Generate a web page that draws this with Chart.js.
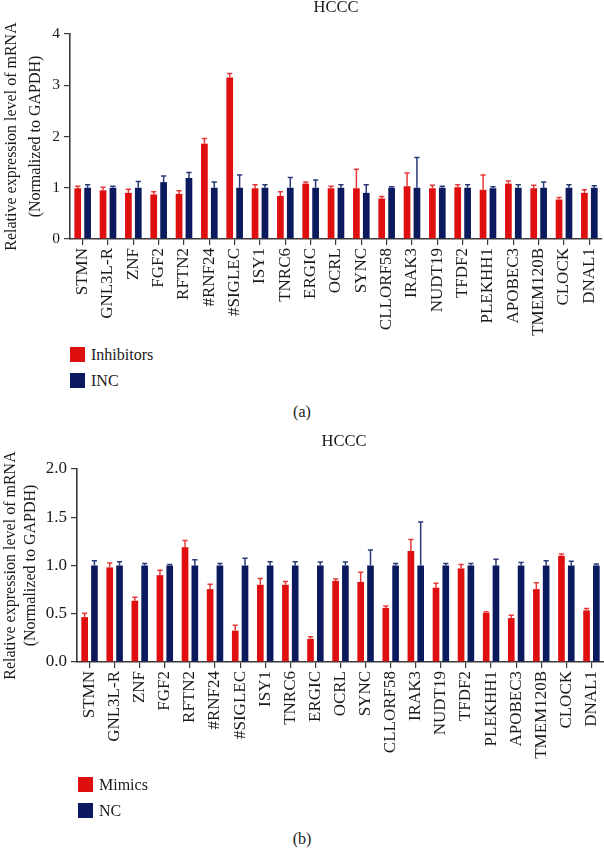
<!DOCTYPE html>
<html>
<head>
<meta charset="utf-8">
<script src="https://cdn.jsdelivr.net/npm/chart.js@4.4.1/dist/chart.umd.min.js"></script>
<style>
  html, body { margin: 0; padding: 0; background: #fff; }
  body { width: 604px; height: 848px; position: relative; overflow: hidden; font-family: "Liberation Serif", "Times New Roman", serif; color: #1a1a1a; }
  .wrap { position: absolute; left: 0; width: 604px; }
  .title { position: absolute; font-size: 16.5px; line-height: 16px; white-space: nowrap; transform: translateX(-50%); }
  .cap { position: absolute; left: 0; width: 604px; text-align: center; font-size: 16px; line-height: 16px; }
  .legend { position: absolute; font-size: 16px; }
  .legend .item { display: flex; align-items: center; height: 15px; }
  .legend .sw { width: 15px; height: 15px; margin-right: 6px; }
</style>
</head>
<body>
<div class="wrap" style="top:0;height:345px"><canvas id="chartA" width="604" height="345"></canvas></div>
<div class="title" style="left:336px;top:-1px">HCCC</div>
<div class="legend" id="legA" style="left:70px;top:347px"></div>
<div class="cap" style="top:404px">(a)</div>

<div class="wrap" style="top:420px;height:370px"><canvas id="chartB" width="604" height="370"></canvas></div>
<div class="title" style="left:344px;top:433px">HCCC</div>
<div class="legend" id="legB" style="left:78px;top:777px"></div>
<div class="cap" style="top:831px">(b)</div>

<script>
// ---------- data ----------
const genes = ["STMN","GNL3L-R","ZNF","FGF2","RFTN2","#RNF24","#SIGLEC","ISY1","TNRC6","ERGIC","OCRL","SYNC","CLLORF58","IRAK3","NUDT19","TFDF2","PLEKHH1","APOBEC3","TMEM120B","CLOCK","DNAL1"];

// panel (a)
const inhibitors    = [0.99,0.95,0.90,0.87,0.88,1.86,3.15,0.99,0.84,1.08,0.99,0.99,0.79,1.03,0.99,1.01,0.96,1.08,0.99,0.77,0.90];
const inhibitorsErr = [0.04,0.06,0.07,0.05,0.06,0.10,0.08,0.07,0.08,0.03,0.04,0.37,0.04,0.26,0.06,0.05,0.29,0.05,0.06,0.04,0.06];
const inc           = [1.00,1.00,1.00,1.11,1.19,1.00,1.00,1.00,1.00,1.00,1.00,0.90,1.00,1.00,1.00,1.00,0.99,1.00,1.00,1.00,1.00];
const incErr        = [0.06,0.03,0.12,0.12,0.11,0.11,0.25,0.06,0.20,0.15,0.06,0.16,0.02,0.59,0.03,0.06,0.03,0.06,0.11,0.06,0.04];
const ticksA = [0,1,2,3,4];

// panel (b)
const mimics    = [0.465,0.98,0.635,0.90,1.19,0.755,0.325,0.80,0.80,0.24,0.84,0.83,0.56,1.15,0.77,0.97,0.51,0.455,0.755,1.10,0.535];
const mimicsErr = [0.04,0.045,0.035,0.05,0.07,0.05,0.055,0.065,0.035,0.022,0.02,0.10,0.02,0.12,0.045,0.04,0.012,0.03,0.065,0.02,0.02];
const nc        = [1,1,1,1,1,1,1,1,1,1,1,1,1,1,1,1,1,1,1,1,1];
const ncErr     = [0.05,0.04,0.02,0.01,0.06,0.02,0.075,0.04,0.04,0.035,0.035,0.16,0.02,0.45,0.02,0.02,0.065,0.03,0.05,0.045,0.015];
const ticksB = [0,0.5,1,1.5,2];

// ---------- style ----------
const RED = "#df0f10", NAVY = "#0b1a5e";
const RED_ERR = "#e63a3a", NAVY_ERR = "#2a3a78";
const AXIS = "#3a3a3a", TXT = "#1a1a1a";
const FONT = "'Liberation Serif', 'Times New Roman', serif";

const errorBars = {
  id: "errorBars",
  afterDatasetsDraw(chart) {
    const ctx = chart.ctx, y = chart.scales.y;
    chart.data.datasets.forEach((ds, di) => {
      const meta = chart.getDatasetMeta(di);
      meta.data.forEach((bar, i) => {
        const top = y.getPixelForValue(ds.data[i] + ds.errors[i]);
        ctx.save();
        ctx.strokeStyle = ds.errorColor;
        ctx.lineWidth = 1.5;
        ctx.beginPath();
        ctx.moveTo(bar.x, bar.y);
        ctx.lineTo(bar.x, top);
        ctx.moveTo(bar.x - 2.6, top);
        ctx.lineTo(bar.x + 2.6, top);
        ctx.stroke();
        ctx.restore();
      });
    });
  }
};

function makeChart(id, cfg) {
  const ds = [
    { label: cfg.names[0], data: cfg.a, errors: cfg.aErr, backgroundColor: RED, errorColor: RED_ERR,
      categoryPercentage: 0.78, barPercentage: 0.68 },
    { label: cfg.names[1], data: cfg.b, errors: cfg.bErr, backgroundColor: NAVY, errorColor: NAVY_ERR,
      categoryPercentage: 0.78, barPercentage: 0.68 }
  ];
  return new Chart(document.getElementById(id), {
    type: "bar",
    data: { labels: genes, datasets: ds },
    plugins: [errorBars],
    options: {
      responsive: false,
      devicePixelRatio: 1,
      animation: false,
      layout: { padding: { top: cfg.padTop, left: 0, right: cfg.padRight, bottom: 0 } },
      plugins: { legend: { display: false }, title: { display: false }, tooltip: { enabled: false } },
      scales: {
        x: {
          offset: true,
          grid: { display: true, offset: false, drawOnChartArea: false, drawTicks: true, tickLength: 6, color: AXIS, lineWidth: 1.2 },
          border: { display: true, color: AXIS, width: 1.6 },
          ticks: { minRotation: 90, maxRotation: 90, autoSkip: false, padding: 3, color: TXT, font: { family: FONT, size: 17 } },
          afterFit(s) { s.height = cfg.xHeight; s.paddingLeft = 0; s.paddingRight = 0; }
        },
        y: {
          min: cfg.ticks[0], max: cfg.ticks[cfg.ticks.length - 1],
          afterBuildTicks(s) { s.ticks = cfg.ticks.map(v => ({ value: v })); },
          grid: { display: true, drawOnChartArea: false, drawTicks: true, tickLength: 6, color: AXIS, lineWidth: 1.2 },
          border: { display: true, color: AXIS, width: 1.6 },
          ticks: { padding: 4, color: TXT, font: { family: FONT, size: cfg.tickSize }, callback: cfg.fmt },
          title: { display: true, text: ["Relative expression level of mRNA", "(Normalized to GAPDH)"],
                   color: TXT, font: { family: FONT, size: 16, lineHeight: cfg.titleLH }, padding: { top: cfg.titlePad, bottom: 0 } },
          afterFit(s) { s.width = cfg.yWidth; s.paddingTop = 0; s.paddingBottom = 0; }
        }
      }
    }
  });
}

makeChart("chartA", {
  names: ["Inhibitors", "INC"], a: inhibitors, aErr: inhibitorsErr, b: inc, bErr: incErr,
  ticks: ticksA, fmt: v => String(v), padTop: 34, padRight: 2, xHeight: 106, yWidth: 70, titleLH: 1.5, titlePad: 0, tickSize: 15.5
});
makeChart("chartB", {
  names: ["Mimics", "NC"], a: mimics, aErr: mimicsErr, b: nc, bErr: ncErr,
  ticks: ticksB, fmt: v => Number(v).toFixed(1), padTop: 49, padRight: 0, xHeight: 128, yWidth: 77, titleLH: 1.3, titlePad: 0, tickSize: 17
});

function legend(id, names) {
  const el = document.getElementById(id);
  [[names[0], RED], [names[1], NAVY]].forEach(([n, c], i) => {
    const it = document.createElement("div");
    it.className = "item";
    it.style.marginBottom = i === 0 ? "11px" : "0";
    it.innerHTML = '<span class="sw" style="background:' + c + '"></span><span>' + n + '</span>';
    el.appendChild(it);
  });
}
legend("legA", ["Inhibitors", "INC"]);
legend("legB", ["Mimics", "NC"]);
</script>
</body>
</html>
